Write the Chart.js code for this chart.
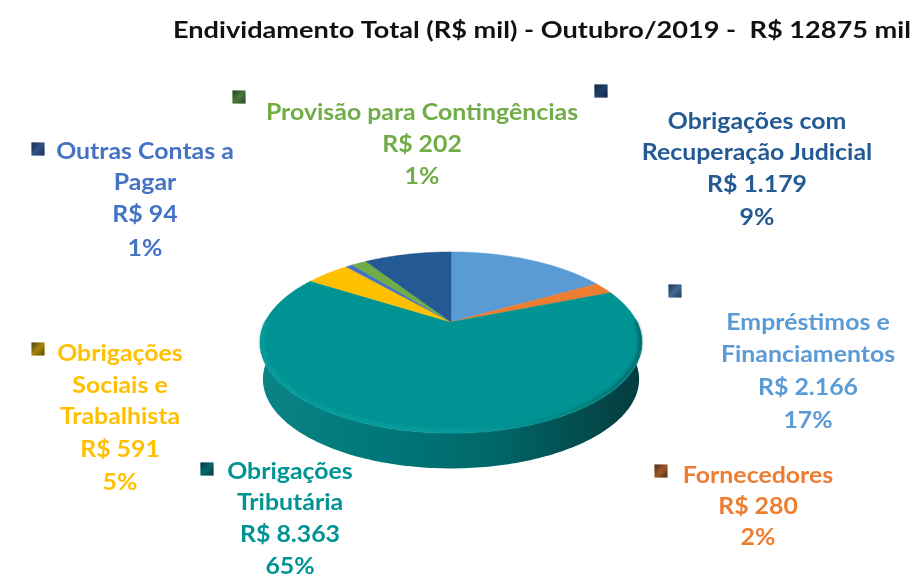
<!DOCTYPE html>
<html lang="pt-BR">
<head>
<meta charset="utf-8">
<title>Endividamento Total</title>
<script src="https://cdn.jsdelivr.net/npm/chart.js@4"></script>
<style>
  html, body { margin: 0; padding: 0; background: #fff; }
  canvas { display: block; filter: blur(0.4px); }
</style>
</head>
<body>
<canvas id="grafico" width="916" height="580"></canvas>
<script>
// Dados
const titulo = "Endividamento Total (R$ mil) - Outubro/2019 -  R$ 12875 mil";
const categorias = ["Empréstimos e Financiamentos", "Fornecedores", "Obrigações Tributária",
  "Obrigações Sociais e Trabalhista", "Outras Contas a Pagar", "Provisão para Contingências",
  "Obrigações com Recuperação Judicial"];
const valores = [2166, 280, 8363, 591, 94, 202, 1179];
const percentuais = [17, 2, 65, 5, 1, 1, 9];
const cores = ["#5b9bd5", "#ed7d31", "#009393", "#ffc000", "#4472c4", "#70ad47", "#245a93"];

// Quebra de linha de cada rótulo
const linhas = [
  ["Empréstimos e", "Financiamentos"],
  ["Fornecedores"],
  ["Obrigações", "Tributária"],
  ["Obrigações", "Sociais e", "Trabalhista"],
  ["Outras Contas a", "Pagar"],
  ["Provisão para Contingências"],
  ["Obrigações com", "Recuperação Judicial"]
];

// Posição dos rótulos: centro x, y de cada linha, marcador
const posRotulos = [
  { x: 808, y: [323, 355, 388, 421], mx: 675, my: 291 },
  { x: 758, y: [476, 507, 538], mx: 661, my: 471 },
  { x: 290, y: [472, 503, 535, 567], mx: 207, my: 469 },
  { x: 120, y: [354, 386, 417, 450, 483], mx: 38, my: 349 },
  { x: 145, y: [152, 183, 215, 249], mx: 38, my: 149 },
  { x: 422, y: [113, 145, 177], mx: 239, my: 97 },
  { x: 757, y: [122, 153, 185, 218], mx: 601, my: 91 }
];

const fonte = "Lato, Carlito, sans-serif";
const achatamento = 0.462; // inclinação do disco
const perspectiva = 0.2265;
const espessura = 37;

function projetar(arc, ang, dy = 0, esc = 1) {
  const X = Math.cos(ang), Y = Math.sin(ang);
  const s = esc / (1 - perspectiva * Y);
  return [arc.x + arc.outerRadius * X * s, arc.y + arc.outerRadius * achatamento * Y * s + dy];
}

function desenharParede(ctx, arc) {
  // lateral do disco: só a metade da frente aparece
  const ini = -0.05, fim = Math.PI + 0.05, passo = Math.PI / 180;
  ctx.beginPath();
  for (let a = ini; a <= fim; a += passo) {
    const p = projetar(arc, a);
    ctx.lineTo(p[0], p[1]);
  }
  for (let a = fim; a >= ini; a -= passo) {
    const p = projetar(arc, a, espessura, 0.985);
    ctx.lineTo(p[0], p[1]);
  }
  ctx.closePath();
  const g = ctx.createLinearGradient(259, 0, 642, 0);
  g.addColorStop(0, "#0a8486");
  g.addColorStop(0.3, "#00787a");
  g.addColorStop(0.6, "#00686a");
  g.addColorStop(0.85, "#044b4d");
  g.addColorStop(1, "#033c3e");
  ctx.fillStyle = g;
  ctx.fill();
}

function desenharFatia(ctx, arc, cor) {
  ctx.beginPath();
  const c = projetar({ x: arc.x, y: arc.y, outerRadius: 0 }, 0);
  ctx.moveTo(c[0], c[1]);
  const n = Math.max(2, Math.ceil((arc.endAngle - arc.startAngle) * 90));
  for (let i = 0; i <= n; i++) {
    const p = projetar(arc, arc.startAngle + (arc.endAngle - arc.startAngle) * i / n);
    ctx.lineTo(p[0], p[1]);
  }
  ctx.closePath();
  ctx.fillStyle = cor;
  ctx.strokeStyle = cor;
  ctx.lineWidth = 0.5;
  ctx.fill();
  ctx.stroke();
}

function desenharBrilho(ctx, arc) {
  // realce na borda de cima da lateral
  const g = ctx.createLinearGradient(259, 0, 642, 0);
  g.addColorStop(0, "#0aa3a3");
  g.addColorStop(0.55, "#0aa0a0");
  g.addColorStop(0.8, "#007c7c");
  g.addColorStop(1, "#02595b");
  ctx.save();
  ctx.strokeStyle = g;
  ctx.lineWidth = 2.5;
  ctx.filter = "blur(1.5px)";
  ctx.beginPath();
  for (let a = 0; a <= Math.PI; a += Math.PI / 180) {
    const p = projetar(arc, a, -1, 0.99);
    ctx.lineTo(p[0], p[1]);
  }
  ctx.stroke();
  ctx.restore();
}

function desenharMarcador(ctx, x, y, cor) {
  const t = 13;
  ctx.fillStyle = cor;
  ctx.fillRect(x - t / 2, y - t / 2, t, t);
  const g = ctx.createLinearGradient(x - t / 2, y - t / 2, x + t / 2, y + t / 2);
  g.addColorStop(0, "rgba(10,20,30,0.75)");
  g.addColorStop(0.5, "rgba(10,20,30,0.35)");
  g.addColorStop(1, "rgba(10,20,30,0.7)");
  ctx.fillStyle = g;
  ctx.fillRect(x - t / 2, y - t / 2, t, t);
}

// Texto esticado na horizontal, como na figura
function escrever(ctx, t, x, y, sx) {
  ctx.save();
  ctx.translate(x, y);
  ctx.scale(sx, 1);
  ctx.fillText(t, 0, 0);
  ctx.restore();
}

const pizza3d = {
  id: "pizza3d",
  beforeDatasetDraw(chart, args) {
    const ctx = chart.ctx;
    const arcos = chart.getDatasetMeta(args.index).data;
    ctx.save();
    desenharParede(ctx, arcos[0]);
    arcos.forEach((arc, i) => desenharFatia(ctx, arc, cores[i]));
    desenharBrilho(ctx, arcos[0]);
    ctx.restore();
    return false;
  },
  afterDraw(chart) {
    const ctx = chart.ctx;
    ctx.save();
    ctx.textBaseline = "middle";
    ctx.textAlign = "left";
    ctx.fillStyle = "#111";
    ctx.font = "bold 23px " + fonte;
    escrever(ctx, titulo, 173, 31, 1.18);
    ctx.textAlign = "center";
    ctx.font = "bold 22px " + fonte;
    categorias.forEach((cat, i) => {
      const pos = posRotulos[i];
      const texto = linhas[i].concat(["R$ " + valores[i].toLocaleString("pt-BR"), percentuais[i] + "%"]);
      ctx.fillStyle = cores[i];
      texto.forEach((t, j) => escrever(ctx, t, pos.x, pos.y[j], 1.13));
      desenharMarcador(ctx, pos.mx, pos.my, cores[i]);
    });
    ctx.restore();
  }
};

new Chart(document.getElementById("grafico"), {
  type: "pie",
  data: {
    labels: categorias,
    datasets: [{ data: valores, backgroundColor: cores, borderWidth: 0 }]
  },
  options: {
    responsive: false,
    animation: false,
    layout: { padding: { left: 265, right: 279, top: 136, bottom: 72 } },
    plugins: { legend: { display: false }, tooltip: { enabled: false }, title: { display: false } }
  },
  plugins: [pizza3d]
});
</script>
</body>
</html>
